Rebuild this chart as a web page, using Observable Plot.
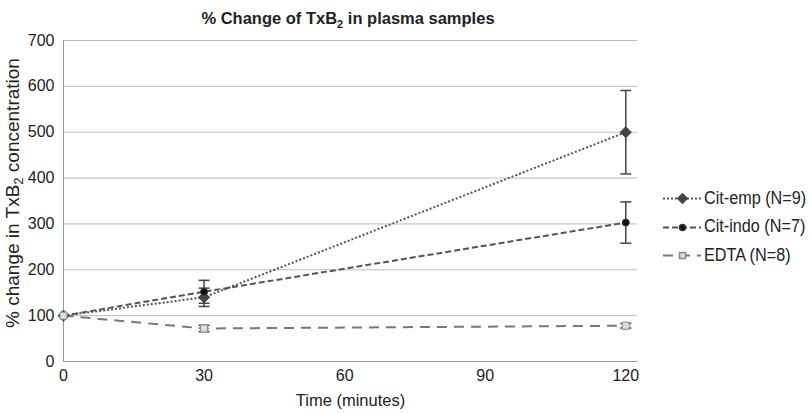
<!DOCTYPE html>
<html>
<head>
<meta charset="utf-8">
<script src="https://cdn.jsdelivr.net/npm/d3@7"></script>
<script src="https://cdn.jsdelivr.net/npm/@observablehq/plot@0.6"></script>
<style>
  html, body { margin: 0; padding: 0; background: #fff; }
  #wrap { position: relative; width: 810px; height: 413px; font-family: "Liberation Sans", Arial, sans-serif; overflow: hidden; }
  #title { height: 30px; padding-top: 4px; box-sizing: border-box; line-height: 28px; width: 696px; text-align: center; font-weight: bold; font-size: 16.5px; color: #222; }
  #title sub { font-size: 11px; line-height: 0; }
  #legend { position: absolute; left: 663px; top: 184px; font-size: 18px; color: #222; white-space: nowrap; width: 147px; }
  .item { display: flex; align-items: center; height: 28.5px; white-space: nowrap; }
  .item svg { margin-right: 3px; flex: none; }
  .item span { display: inline-block; transform: scaleX(0.9); transform-origin: left center; }
</style>
</head>
<body>
<div id="wrap">
  <div id="title">% Change of TxB<sub>2</sub> in plasma samples</div>
  <div id="chart"></div>
  <div id="legend"></div>
</div>
<script>
const times = [0, 30, 120];
const seriesNames = ["Cit-emp (N=9)", "Cit-indo (N=7)", "EDTA (N=8)"];
const citEmp = [100, 140, 500];
const citEmpErr = [0, 20, 91];
const citIndo = [100, 152, 303];
const citIndoErr = [0, 25, 45];
const edta = [100, 72, 78];
const edtaErr = [0, 7, 5];
const xTicks = [0, 30, 60, 90, 120];
const yTicks = [0, 100, 200, 300, 400, 500, 600, 700];

const styles = [
  {stroke: "#555", dash: "2,2", symbol: "diamond2", fill: "#444", r: 5, mstroke: "#444"},
  {stroke: "#555", dash: "6,3", symbol: "circle", fill: "#111", r: 3.5, mstroke: "#333"},
  {stroke: "#777", dash: "10,7", symbol: "square", fill: "#ddd", r: 4, mstroke: "#888"}
];

const rows = [];
[[citEmp, citEmpErr], [citIndo, citIndoErr], [edta, edtaErr]].forEach(([vals, errs], i) => {
  vals.forEach((v, j) => rows.push({series: seriesNames[i], idx: i, t: times[j], v, lo: v - errs[j], hi: v + errs[j], err: errs[j]}));
});

const capSymbol = {
  draw(context, size) {
    const w = 5.5;
    context.moveTo(-w, 0);
    context.lineTo(w, 0);
  }
};

const marks = [
  Plot.gridY(yTicks, {stroke: "#bbb", strokeOpacity: 1, strokeWidth: 1}),
  Plot.ruleX([0], {stroke: "#999"}),
  Plot.ruleY([0], {stroke: "#999"}),
  Plot.axisX(xTicks, {tickSize: 0, tickPadding: 8, fontSize: 16, label: "Time (minutes)", labelAnchor: "center", labelArrow: "none", labelOffset: 44}),
  Plot.axisY(yTicks, {tickSize: 0, tickPadding: 9, fontSize: 16, label: "% change in TxB2 concentration", labelAnchor: "center", labelArrow: "none", labelOffset: 58})
];
seriesNames.forEach((name, i) => {
  const s = styles[i];
  const d = rows.filter(r => r.idx === i);
  marks.push(Plot.line(d, {x: "t", y: "v", stroke: s.stroke, strokeWidth: 2, strokeDasharray: s.dash, strokeLinecap: "butt"}));
});
seriesNames.forEach((name, i) => {
  const d = rows.filter(r => r.idx === i && r.err > 0);
  marks.push(Plot.ruleX(d, {x: "t", y1: "lo", y2: "hi", stroke: "#444", strokeWidth: 1.5}));
  marks.push(Plot.dot(d, {x: "t", y: "lo", symbol: capSymbol, stroke: "#444", strokeWidth: 1.5}));
  marks.push(Plot.dot(d, {x: "t", y: "hi", symbol: capSymbol, stroke: "#444", strokeWidth: 1.5}));
});
seriesNames.forEach((name, i) => {
  const s = styles[i];
  const d = rows.filter(r => r.idx === i);
  marks.push(Plot.dot(d, {x: "t", y: "v", symbol: s.symbol, r: s.r, fill: s.fill, stroke: s.mstroke, strokeWidth: 1}));
});

const chart = Plot.plot({
  width: 810,
  height: 383,
  marginLeft: 63,
  marginRight: 173,
  marginTop: 10,
  marginBottom: 52,
  style: {fontFamily: "'Liberation Sans', Arial, sans-serif", fontSize: "16px", color: "#222", background: "#fff"},
  x: {domain: [0, 122.5]},
  y: {domain: [0, 700]},
  marks
});
document.getElementById("chart").appendChild(chart);

// axis label sizes + subscript in y label
const ns = "http://www.w3.org/2000/svg";
chart.querySelectorAll("g[aria-label='x-axis tick label'] text, g[aria-label='y-axis tick label'] text").forEach(t => {
  t.setAttribute("font-size", "16px");
  t.style.fontSize = "16px";
});
chart.querySelectorAll("text").forEach(t => {
  if (t.textContent === "Time (minutes)") {
    t.setAttribute("font-size", "16.5px");
    t.style.fontSize = "16.5px";
  }
  if (t.textContent === "% change in TxB2 concentration") {
    t.setAttribute("font-size", "19px");
    t.style.fontSize = "19px";
    const tgt = t.querySelector("tspan") || t;
    tgt.textContent = "";
    const a = document.createElementNS(ns, "tspan"); a.textContent = "% change in TxB"; a.setAttribute("dx", "8");
    const b = document.createElementNS(ns, "tspan"); b.textContent = "2"; b.setAttribute("font-size", "13px"); b.setAttribute("dy", "4");
    const c = document.createElementNS(ns, "tspan"); c.textContent = " concentration"; c.setAttribute("dy", "-4");
    tgt.append(a, b, c);
  }
});

// legend
const legend = document.getElementById("legend");
seriesNames.forEach((name, i) => {
  const s = styles[i];
  const item = document.createElement("div");
  item.className = "item";
  const sym = Plot.plot({
    width: 38, height: 14, margin: 0, x: {domain: [0, 38], axis: null}, y: {domain: [-7, 7], axis: null},
    marks: [
      Plot.ruleY([0], {x1: 0, x2: 38, stroke: s.stroke, strokeWidth: 2, strokeDasharray: s.dash}),
      Plot.dot([0], {x: () => 19, y: () => 0, symbol: s.symbol, r: s.r * 0.85, fill: s.fill, stroke: s.mstroke})
    ]
  });
  item.appendChild(sym);
  const span = document.createElement("span");
  span.textContent = name;
  item.appendChild(span);
  legend.appendChild(item);
});
</script>
</body>
</html>
